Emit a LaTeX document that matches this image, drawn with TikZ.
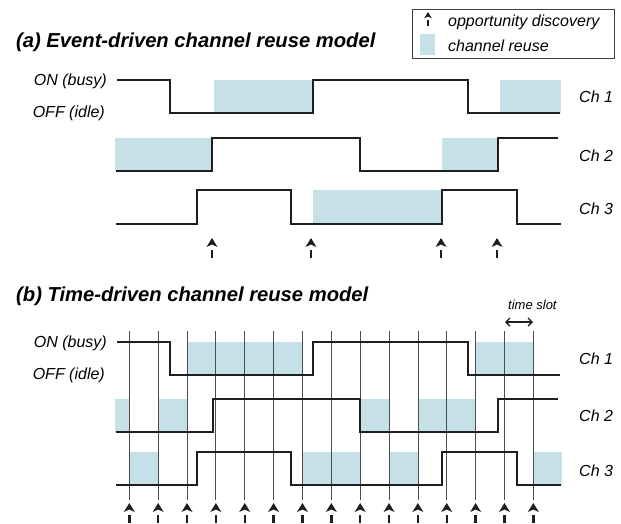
\documentclass[tikz,border=0pt]{standalone}
\usepackage{fontspec}
\setmainfont{Liberation Sans}
\usetikzlibrary{arrows.meta}
\definecolor{reuse}{RGB}{198,224,232}
\definecolor{ink}{RGB}{30,30,30}
\begin{document}
\begin{tikzpicture}[x=1pt,y=-1pt,
  wave/.style={line width=1.6pt, draw=ink, line join=miter},
  reusebox/.style={fill=reuse},
  gridline/.style={line width=0.8pt, draw=black!70},
  lab/.style={inner sep=0pt, font=\fontsize{16}{18}\selectfont\itshape},
  ttl/.style={inner sep=0pt, anchor=west, font=\fontsize{20.2}{24}\selectfont\bfseries\itshape},
  disc/.pic={
    \fill[ink] (0,0) -- (5.5,9) -- (0,6.5) -- (-5.5,9) -- cycle;
    \draw[ink, line width=2.4pt] (0,12) -- (0,20);
  }]
\useasboundingbox (0,0) rectangle (621,523);

% ---------- legend ----------
\draw[line width=1pt, draw=black!75] (412,9) rectangle (614,58);
\pic[scale=0.7] at (428,12) {disc};
\fill[reuse] (420,34) rectangle (435,55);
\node[lab, anchor=west] (legopp) at (448,22) {opportunity discovery};
\node[lab, anchor=west] (legreuse) at (448,46) {channel reuse};

% ---------- (a) ----------
\node[ttl] (titlea) at (16,42) {(a) Event-driven channel reuse model};
\node[lab, anchor=east] (ona) at (107,81) {ON (busy)};
\node[lab, anchor=east] (offa) at (105,113) {OFF (idle)};

\fill[reuse] (214,80) rectangle (313,113);
\fill[reuse] (500,80) rectangle (561,113);
\fill[reuse] (115,138) rectangle (212,171);
\fill[reuse] (442,138) rectangle (498,171);
\fill[reuse] (313,190) rectangle (442,224);

\draw[wave] (117,80) -- (170,80) -- (170,113) -- (313,113) -- (313,80) -- (468,80) -- (468,113) -- (560,113);
\draw[wave] (116,171) -- (212,171) -- (212,138) -- (360,138) -- (360,171) -- (498,171) -- (498,138) -- (558,138);
\draw[wave] (116,224) -- (197,224) -- (197,190) -- (291,190) -- (291,224) -- (442,224) -- (442,190) -- (517,190) -- (517,224) -- (561,224);

\node[lab, anchor=west] (cha1) at (579,97) {Ch 1};
\node[lab, anchor=west] (cha2) at (579,156) {Ch 2};
\node[lab, anchor=west] (cha3) at (579,209) {Ch 3};

\foreach \xx in {212,311,441,497} \pic at (\xx,238) {disc};

% ---------- (b) ----------
\node[ttl] (titleb) at (16,296) {(b) Time-driven channel reuse model};
\node[lab, anchor=east] (onb) at (107,343) {ON (busy)};
\node[lab, anchor=east] (offb) at (105,375) {OFF (idle)};
\node[inner sep=0pt, anchor=west, font=\fontsize{13}{15}\selectfont\itshape] (slot) at (508,305) {time slot};
\coordinate (slotl) at (505,322);
\coordinate (slotr) at (533,322);
\draw[line width=1.4pt, ink, {Straight Barb[length=4pt,width=8pt]}-{Straight Barb[length=4pt,width=8pt]}] (slotl) -- (slotr);

% shading
\fill[reuse] (187.0,342) rectangle (302.5,375);
\fill[reuse] (475.6,342) rectangle (533.3,375);
\fill[reuse] (115,399) rectangle (129.3,432);
\fill[reuse] (158.2,399) rectangle (187.0,432);
\fill[reuse] (360.2,399) rectangle (389.0,432);
\fill[reuse] (417.9,399) rectangle (475.6,432);
\fill[reuse] (129.3,452) rectangle (158.2,485);
\fill[reuse] (302.5,452) rectangle (360.2,485);
\fill[reuse] (389.0,452) rectangle (417.9,485);
\fill[reuse] (533.3,452) rectangle (562,485);

% slot grid
\foreach \k in {0,...,14}
  \draw[gridline] ({129.3+28.86*\k},331) -- ({129.3+28.86*\k},500);

\draw[wave] (117,342) -- (170,342) -- (170,375) -- (313,375) -- (313,342) -- (468,342) -- (468,375) -- (560,375);
\draw[wave] (116,432) -- (213,432) -- (213,399) -- (360,399) -- (360,432) -- (498,432) -- (498,399) -- (558,399);
\draw[wave] (116,485) -- (197,485) -- (197,452) -- (291,452) -- (291,485) -- (442,485) -- (442,452) -- (517,452) -- (517,485) -- (561,485);

\node[lab, anchor=west] (chb1) at (579,359) {Ch 1};
\node[lab, anchor=west] (chb2) at (579,416) {Ch 2};
\node[lab, anchor=west] (chb3) at (579,471) {Ch 3};

\foreach \k in {0,...,14} \pic at ({129.3+28.86*\k},503) {disc};
\end{tikzpicture}
\end{document}
